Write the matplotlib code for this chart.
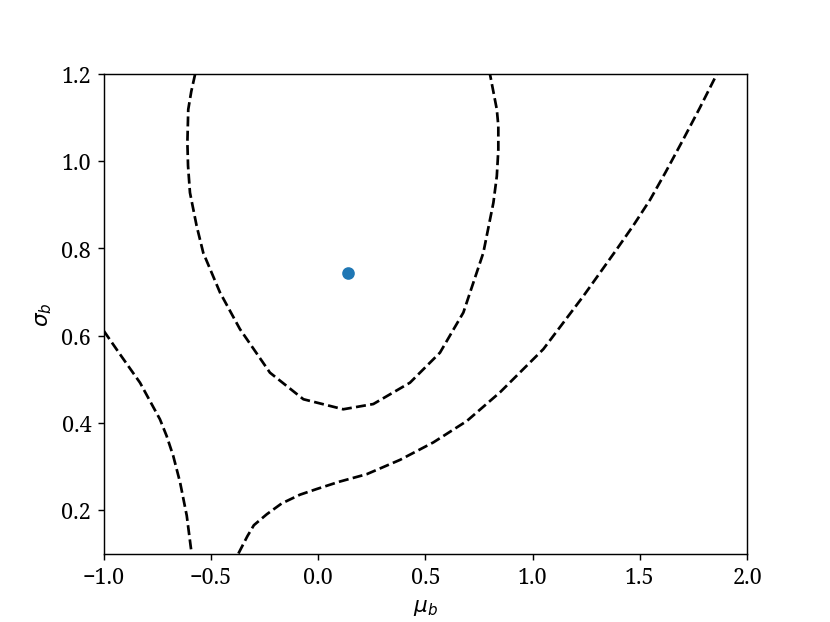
import matplotlib
matplotlib.use('Agg')
import matplotlib.pyplot as plt

plt.rcParams['font.family'] = ['Noto Serif', 'DejaVu Serif']
plt.rcParams['font.size'] = 12

# contour lines
inner_mu = [-0.574, -0.592, -0.606, -0.61, -0.607, -0.598, -0.567, -0.536, -0.458, -0.365,
            -0.225, -0.069, 0.117, 0.257, 0.428, 0.568, 0.677, 0.77, 0.817, 0.833,
            0.84, 0.84, 0.833, 0.801]
inner_sigma = [1.2, 1.16, 1.119, 1.043, 0.99, 0.928, 0.852, 0.79, 0.699, 0.615,
               0.515, 0.454, 0.431, 0.443, 0.492, 0.561, 0.653, 0.79, 0.905, 0.966,
               1.027, 1.081, 1.119, 1.2]

left_mu = [-1.0, -0.924, -0.831, -0.738, -0.707, -0.676, -0.644, -0.613, -0.594, -0.59]
left_sigma = [0.611, 0.557, 0.492, 0.408, 0.37, 0.324, 0.263, 0.187, 0.114, 0.1]

right_mu = [-0.372, -0.33, -0.3, -0.24, -0.17, -0.085, -0.007, 0.1, 0.226, 0.382,
            0.537, 0.693, 0.848, 1.05, 1.237, 1.392, 1.47, 1.548, 1.62, 1.70, 1.78, 1.859]
right_sigma = [0.1, 0.14, 0.165, 0.19, 0.215, 0.235, 0.248, 0.265, 0.282, 0.315,
               0.355, 0.404, 0.47, 0.569, 0.691, 0.798, 0.853, 0.912, 0.975, 1.048, 1.123, 1.2]

best_mu = [0.14]
best_sigma = [0.743]

fig, ax = plt.subplots(figsize=(6.4, 4.8), dpi=129.7)
for xs, ys in [(inner_mu, inner_sigma), (left_mu, left_sigma), (right_mu, right_sigma)]:
    ax.plot(xs, ys, color='black', linestyle='--', linewidth=1.5)
ax.plot(best_mu, best_sigma, 'o', color='C0')

ax.set_xlim(-1, 2)
ax.set_ylim(0.1, 1.2)
ax.set_xlabel(r'$\mu_b$')
ax.set_ylabel(r'$\sigma_b$')

fig.savefig('out.png')
